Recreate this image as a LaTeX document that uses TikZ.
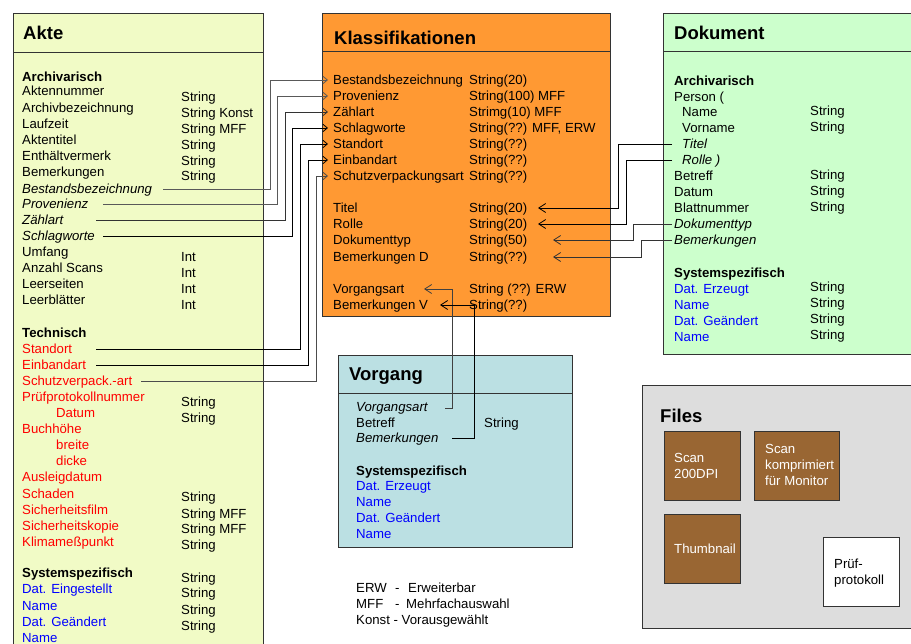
\documentclass[tikz,border=0pt]{standalone}
\usepackage{fontspec}
\setmainfont{Liberation Sans}
\usetikzlibrary{arrows.meta,calc}
\definecolor{akteC}{RGB}{241,251,198}
\definecolor{klassC}{RGB}{255,153,51}
\definecolor{dokC}{RGB}{204,255,204}
\definecolor{vorgC}{RGB}{187,224,227}
\definecolor{filesC}{RGB}{221,221,221}
\definecolor{brownC}{RGB}{153,102,51}
\definecolor{redT}{RGB}{255,0,0}
\definecolor{blueT}{RGB}{0,0,255}
\newcommand\myfs{\fontsize{13.2}{16}\selectfont}
\newcommand\mytf{\fontsize{18.5}{22}\selectfont\bfseries}
\tikzset{
  box/.style={draw=black!80,line width=0.8pt},
  txt/.style={anchor=west,inner sep=0pt,font=\myfs,text height=10pt,text depth=1pt},
  itx/.style={txt,font=\myfs\itshape},
  hdx/.style={txt,font=\myfs\bfseries},
  rd/.style={txt,text=redT},
  bl/.style={txt,text=blueT},
  ttl/.style={anchor=west,inner sep=0pt,font=\mytf,text height=14pt,text depth=1pt},
  ml/.style={anchor=west,inner sep=0pt,font=\myfs,align=left,text=white},
  arrA/.style={line width=0.8pt,-{Straight Barb[length=4.5pt,width=7.5pt]}},
  arrB/.style={line width=0.8pt,-{Straight Barb[length=7pt,width=9pt]}}
}
\begin{document}
\begin{tikzpicture}[x=1pt,y=-1pt]
\useasboundingbox (0,0) rectangle (911,644);
\clip (0,0) rectangle (911,644);
\fill[white] (0,0) rectangle (911,644);
% ---------- boxes ----------
\draw[box,fill=akteC] (13,13) rectangle (263,670);
\draw[box] (13,52) -- (263,52);
\draw[box,fill=klassC] (322,13) rectangle (610,316);
\draw[box] (322,51) -- (610,51);
\draw[box,fill=dokC] (663,13) rectangle (930,354);
\draw[box] (663,51) -- (930,51);
\draw[box,fill=vorgC] (338,355) rectangle (572,547);
\draw[box] (338,393) -- (572,393);
\draw[box,fill=filesC] (642,385) rectangle (930,628);
% ---------- titles ----------
\node[ttl] (tAkte) at (23,33) {Akte};
\node[ttl] (tKlass) at (334,38) {Klassifikationen};
\node[ttl] (tDok) at (674,33) {Dokument};
\node[ttl] (tVorg) at (349,374) {Vorgang};
\node[ttl] (tFiles) at (660,416) {Files};
% ---------- Akte ----------
\node[hdx] (aArch) at (22,77) {Archivarisch};
\node[txt] (a1) at (22,91) {Aktennummer};
\node[txt] (a2) at (22,108) {Archivbezeichnung};
\node[txt] (a3) at (22,124) {Laufzeit};
\node[txt] (a4) at (22,140) {Aktentitel};
\node[txt] (a5) at (22,156) {Enthältvermerk};
\node[txt] (a6) at (22,172) {Bemerkungen};
\node[itx] (aBest) at (22,189) {Bestandsbezeichnung};
\node[itx] (aProv) at (22,204) {Provenienz};
\node[itx] (aZahl) at (22,220) {Zählart};
\node[itx] (aSchl) at (22,236) {Schlagworte};
\node[txt] (a7) at (22,252) {Umfang};
\node[txt] (a8) at (22,268) {Anzahl Scans};
\node[txt] (a9) at (22,284) {Leerseiten};
\node[txt] (a10) at (22,300) {Leerblätter};
\node[hdx] (aTech) at (22,333) {Technisch};
\node[rd] (aStand) at (22,349) {Standort};
\node[rd] (aEinb) at (22,365) {Einbandart};
\node[rd] (aSchutz) at (22,381) {Schutzverpack.-art};
\node[rd] (a11) at (22,397) {Prüfprotokollnummer};
\node[rd] (a12) at (56,413) {Datum};
\node[rd] (a13) at (22,429) {Buchhöhe};
\node[rd] (a14) at (56,445) {breite};
\node[rd] (a15) at (56,461) {dicke};
\node[rd] (a16) at (22,477) {Ausleigdatum};
\node[rd] (a17) at (22,494) {Schaden};
\node[rd] (a18) at (22,510) {Sicherheitsfilm};
\node[rd] (a19) at (22,526) {Sicherheitskopie};
\node[rd] (a20) at (22,542) {Klimameßpunkt};
\node[hdx] (aSys) at (22,573) {Systemspezifisch};
\node[bl] (a21) at (22,589) {Dat. Eingestellt};
\node[bl] (a22) at (22,606) {Name};
\node[bl] (a23) at (22,622) {Dat. Geändert};
\node[bl] (a24) at (22,638) {Name};
% Akte values
\node[txt] (av1) at (181,97) {String};
\node[txt] (av2) at (181,113) {String Konst};
\node[txt] (av3) at (181,129) {String MFF};
\node[txt] (av4) at (181,145) {String};
\node[txt] (av5) at (181,161) {String};
\node[txt] (av6) at (181,176) {String};
\node[txt] (av7) at (181,257) {Int};
\node[txt] (av8) at (181,273) {Int};
\node[txt] (av9) at (181,289) {Int};
\node[txt] (av10) at (181,305) {Int};
\node[txt] (av11) at (181,402) {String};
\node[txt] (av12) at (181,418) {String};
\node[txt] (av13) at (181,497) {String};
\node[txt] (av14) at (181,514) {String MFF};
\node[txt] (av15) at (181,529) {String MFF};
\node[txt] (av16) at (181,545) {String};
\node[txt] (av17) at (181,578) {String};
\node[txt] (av18) at (181,593) {String};
\node[txt] (av19) at (181,610) {String};
\node[txt] (av20) at (181,626) {String};
% ---------- Klassifikationen ----------
\node[txt] (kBest) at (333,80) {Bestandsbezeichnung};
\node[txt] (kProv) at (333,96) {Provenienz};
\node[txt] (kZahl) at (333,112) {Zählart};
\node[txt] (kSchl) at (333,128) {Schlagworte};
\node[txt] (kStand) at (333,144) {Standort};
\node[txt] (kEinb) at (333,160) {Einbandart};
\node[txt] (kSchutz) at (333,176) {Schutzverpackungsart};
\node[txt] (kTitel) at (333,208) {Titel};
\node[txt] (kRolle) at (333,224) {Rolle};
\node[txt] (kDokt) at (333,240) {Dokumenttyp};
\node[txt] (kBemD) at (333,257) {Bemerkungen D};
\node[txt] (kVorg) at (333,289) {Vorgangsart};
\node[txt] (kBemV) at (333,305) {Bemerkungen V};
\node[txt] (kv1) at (469,80) {String(20)};
\node[txt] (kv2) at (469,96) {String(100) MFF};
\node[txt] (kv3) at (469,112) {Strimg(10) MFF};
\node[txt] (kv4) at (469,128) {String(??) MFF, ERW};
\node[txt] (kv5) at (469,144) {String(??)};
\node[txt] (kv6) at (469,160) {String(??)};
\node[txt] (kv7) at (469,176) {String(??)};
\node[txt] (kv8) at (469,208) {String(20)};
\node[txt] (kv9) at (469,224) {String(20)};
\node[txt] (kv10) at (469,240) {String(50)};
\node[txt] (kv11) at (469,257) {String(??)};
\node[txt] (kv12) at (469,289) {String (??) ERW};
\node[txt] (kv13) at (469,305) {String(??)};
% ---------- Dokument ----------
\node[hdx] (dArch) at (674,81) {Archivarisch};
\node[txt] (dPers) at (674,97) {Person (};
\node[txt] (dName) at (682,112) {Name};
\node[txt] (dVorn) at (682,128) {Vorname};
\node[itx] (dTitel) at (682,144) {Titel};
\node[itx] (dRolle) at (682,160) {Rolle )};
\node[txt] (dBetr) at (674,176) {Betreff};
\node[txt] (dDat) at (674,192) {Datum};
\node[txt] (dBlatt) at (674,208) {Blattnummer};
\node[itx] (dDokt) at (674,224) {Dokumenttyp};
\node[itx] (dBem) at (674,240) {Bemerkungen};
\node[hdx] (dSys) at (674,273) {Systemspezifisch};
\node[bl] (d1) at (674,289) {Dat. Erzeugt};
\node[bl] (d2) at (674,305) {Name};
\node[bl] (d3) at (674,321) {Dat. Geändert};
\node[bl] (d4) at (674,337) {Name};
\node[txt] (dv1) at (810,111) {String};
\node[txt] (dv2) at (810,127) {String};
\node[txt] (dv3) at (810,175) {String};
\node[txt] (dv4) at (810,191) {String};
\node[txt] (dv5) at (810,207) {String};
\node[txt] (dv6) at (810,287) {String};
\node[txt] (dv7) at (810,303) {String};
\node[txt] (dv8) at (810,319) {String};
\node[txt] (dv9) at (810,335) {String};
% ---------- Vorgang ----------
\node[itx] (vVorg) at (356,407) {Vorgangsart};
\node[txt] (vBetr) at (356,423) {Betreff};
\node[itx] (vBem) at (356,438) {Bemerkungen};
\node[txt] (vv1) at (484,423) {String};
\node[hdx] (vSys) at (356,471) {Systemspezifisch};
\node[bl] (v1) at (356,486) {Dat. Erzeugt};
\node[bl] (v2) at (356,502) {Name};
\node[bl] (v3) at (356,518) {Dat. Geändert};
\node[bl] (v4) at (356,534) {Name};
% ---------- Files ----------
\node[box,fill=brownC,minimum width=76pt,minimum height=69pt,inner sep=0pt,anchor=north west] (fScan) at (664,431) {};
\node[box,fill=brownC,minimum width=85pt,minimum height=69pt,inner sep=0pt,anchor=north west] (fKomp) at (754,431) {};
\node[box,fill=brownC,minimum width=76pt,minimum height=69pt,inner sep=0pt,anchor=north west] (fThumb) at (664,514) {};
\node[box,fill=white,minimum width=76pt,minimum height=69pt,inner sep=0pt,anchor=north west] (fPruef) at (823,537) {};
\node[ml] (fScanT) at (674,466) {Scan\\200DPI};
\node[ml] (fKompT) at (765,465) {Scan\\komprimiert\\für Monitor};
\node[ml] (fThumbT) at (674,549) {Thumbnail};
\node[ml,text=black] (fPruefT) at (834,573) {Prüf-\\protokoll};
% ---------- legend ----------
\node[txt] (l1) at (356,588) {ERW};
\node[txt] (l1d) at (395,588) {-};
\node[txt] (l1t) at (408,588) {Erweiterbar};
\node[txt] (l2) at (356,604) {MFF};
\node[txt] (l2d) at (395,604) {-};
\node[txt] (l2t) at (406,604) {Mehrfachauswahl};
\node[txt] (l3) at (356,620) {Konst - Vorausgewählt};
% ---------- connector coordinates ----------
\coordinate (sBest) at (163,189);
\coordinate (sProv) at (103,204);
\coordinate (sZahl) at (96,220);
\coordinate (sSchl) at (103,236);
\coordinate (sStand) at (96,349);
\coordinate (sEinb) at (96,365);
\coordinate (sSchutz) at (141,381);
\coordinate (b1) at (270,0);
\coordinate (b2) at (277,0);
\coordinate (b3) at (285,0);
\coordinate (b4) at (292,0);
\coordinate (b5) at (300,0);
\coordinate (b6) at (308,0);
\coordinate (b7) at (316,0);
\coordinate (w1) at (618,0);
\coordinate (w2) at (626,0);
\coordinate (w3) at (633,0);
\coordinate (w4) at (641,0);
\coordinate (t1) at (538,0);
\coordinate (t3) at (553,0);
\coordinate (sV1) at (445,408);
\coordinate (sV2) at (452,438);
\coordinate (u1) at (452,0);
\coordinate (u2) at (474,0);
\coordinate (t5) at (424,0);
\coordinate (t6) at (440,0);
% ---------- connectors Akte -> Klassifikationen ----------
\draw[arrA,black!65] (sBest) -| (b1 |- kBest) -- ([xshift=-5pt]kBest.west);
\draw[arrA,black!65] (sProv) -| (b2 |- kProv) -- ([xshift=-5pt]kProv.west);
\draw[arrA,black!80] (sZahl) -| (b3 |- kZahl) -- ([xshift=-5pt]kZahl.west);
\draw[arrA] (sSchl) -| (b4 |- kSchl) -- ([xshift=-5pt]kSchl.west);
\draw[arrA] (sStand) -| (b5 |- kStand) -- ([xshift=-5pt]kStand.west);
\draw[arrA] (sEinb) -| (b6 |- kEinb) -- ([xshift=-5pt]kEinb.west);
\draw[arrA,black!70] (sSchutz) -| (b7 |- kSchutz) -- ([xshift=-5pt]kSchutz.west);
% ---------- connectors Dokument -> Klassifikationen ----------
\draw[arrB] ([xshift=-10pt]dTitel.west) -| (w1 |- kTitel) -- (kTitel -| t1);
\draw[arrB] ([xshift=-10pt]dRolle.west) -| (w2 |- kRolle) -- (kRolle -| t1);
\draw[arrB,black!80] ([xshift=-2pt]dDokt.west) -| (w3 |- kDokt) -- (kDokt -| t3);
\draw[arrB,black!80] ([xshift=-2pt]dBem.west) -| (w4 |- kBemD) -- (kBemD -| t3);
% ---------- connectors Vorgang -> Klassifikationen ----------
\draw[arrB,black!75] (sV1) -| (u1 |- kVorg) -- (kVorg -| t5);
\draw[arrB] (sV2) -| (u2 |- kBemV) -- (kBemV -| t6);
\end{tikzpicture}
\end{document}
